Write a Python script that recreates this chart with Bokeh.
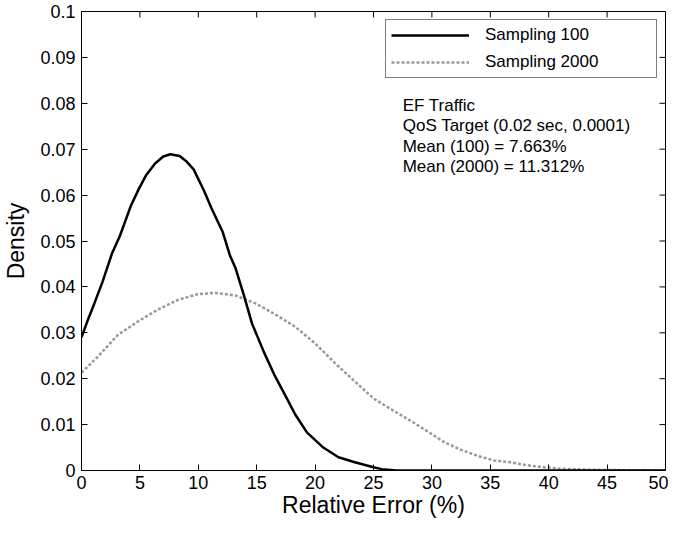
import math
from bokeh.plotting import figure
from bokeh.models import (Range1d, FixedTicker, CustomJSTickFormatter,
                          Legend, LegendItem, ColumnDataSource)
from bokeh.core.properties import value
from bokeh.embed import file_html
from bokeh.resources import INLINE

# ---- data ----
x_s100 = [0, 0.5, 1.1, 1.8, 2.6, 3.3, 4.2, 4.9, 5.5, 6.3, 7.0, 7.6, 8.4, 9.0, 9.6,
          10.5, 11.1, 12.1, 12.7, 13.2, 13.9, 14.6, 15.6, 16.5, 17.4, 18.3, 19.3,
          20.7, 22.0, 23.4, 25.0, 25.7, 27.0, 30, 35, 40, 45, 50]
y_s100 = [0.0290, 0.0325, 0.0364, 0.0411, 0.0472, 0.0512, 0.0575, 0.0613, 0.0642,
          0.0669, 0.0684, 0.0689, 0.0685, 0.0673, 0.0656, 0.0609, 0.0573, 0.0519,
          0.0469, 0.0440, 0.0382, 0.0320, 0.0259, 0.0209, 0.0166, 0.0122, 0.0083,
          0.0050, 0.0029, 0.0018, 0.0007, 0.0003, 0.0, 0.0, 0.0, 0.0, 0.0, 0.0]

x_s2000 = [0, 1.4, 3.1, 4.8, 6.5, 8.2, 9.9, 11.5, 13.2, 14.9, 16.6, 18.3, 20.0,
           21.7, 23.4, 25.0, 26.6, 28.2, 29.7, 31.1, 32.5, 33.9, 35.3, 36.7, 38.0,
           39.6, 41.0, 43.0, 45.0, 50.0]
y_s2000 = [0.0213, 0.0248, 0.0295, 0.0324, 0.0350, 0.0371, 0.0384, 0.0387, 0.0381,
           0.0364, 0.0340, 0.0313, 0.0277, 0.0234, 0.0194, 0.0157, 0.0132, 0.0108,
           0.0084, 0.0061, 0.0045, 0.0032, 0.0022, 0.0018, 0.0012, 0.0007, 0.0004,
           0.0002, 0.0001, 0.0]

series_names = ["Sampling 100", "Sampling 2000"]
x_ticks = [0, 5, 10, 15, 20, 25, 30, 35, 40, 45, 50]
y_ticks = [0, 0.01, 0.02, 0.03, 0.04, 0.05, 0.06, 0.07, 0.08, 0.09, 0.1]
note_lines = ["EF Traffic", "QoS Target (0.02 sec, 0.0001)",
              "Mean (100) = 7.663%", "Mean (2000) = 11.312%"]
x_title = "Relative Error (%)"
y_title = "Density"

FONT = "Liberation Sans"
X_MIN, X_MAX = 0, 50
Y_MIN, Y_MAX = 0, 0.1

p = figure(width=668, height=520, output_backend="svg", toolbar_location=None,
           x_range=Range1d(X_MIN, X_MAX), y_range=Range1d(Y_MIN, Y_MAX),
           min_border_left=76, min_border_top=11, min_border_right=3,
           min_border_bottom=40)
p.background_fill_color = "white"
p.border_fill_color = "white"
p.outline_line_color = "black"
p.outline_line_width = 1
p.grid.visible = False

for ax in (p.xaxis[0], p.yaxis[0]):
    ax.major_tick_in = 6
    ax.major_tick_out = 0
    ax.minor_tick_line_color = None
    ax.axis_line_color = "black"
    ax.major_tick_line_color = "black"
    ax.major_label_text_font = FONT
    ax.major_label_text_font_size = "18px"
    ax.major_label_text_color = "black"
    ax.axis_label_text_font = FONT
    ax.axis_label_text_font_size = "23px"
    ax.axis_label_text_font_style = "normal"
    ax.axis_label_text_color = "black"

p.xaxis[0].ticker = FixedTicker(ticks=x_ticks)
p.yaxis[0].ticker = FixedTicker(ticks=y_ticks)
p.yaxis[0].formatter = CustomJSTickFormatter(code="return String(Math.round(tick*100)/100);")
p.xaxis[0].axis_label = x_title
p.yaxis[0].axis_label = y_title
p.xaxis[0].major_label_standoff = 5
p.yaxis[0].major_label_standoff = 6
p.xaxis[0].axis_label_standoff = 0
p.yaxis[0].axis_label_standoff = 8

# mirrored inward tick marks on the top and right edges of the box
p.ray(x=x_ticks, y=[Y_MAX] * len(x_ticks), length=6, length_units="screen",
      angle=-math.pi / 2, line_color="black", line_width=1)
p.ray(x=[X_MAX] * len(y_ticks), y=y_ticks, length=6, length_units="screen",
      angle=math.pi, line_color="black", line_width=1)

src1 = ColumnDataSource(dict(x=x_s100, y=y_s100))
src2 = ColumnDataSource(dict(x=x_s2000, y=y_s2000))
r2 = p.line("x", "y", source=src2, line_color="#9a9a9a", line_width=2.5,
            line_dash="3 2")
r1 = p.line("x", "y", source=src1, line_color="black", line_width=2.5)

legend = Legend(items=[LegendItem(label=series_names[0], renderers=[r1]),
                       LegendItem(label=series_names[1], renderers=[r2])],
                location="top_right", orientation="vertical",
                border_line_color="black", border_line_width=1,
                background_fill_color="white", background_fill_alpha=1,
                label_text_font=FONT, label_text_font_size="17px",
                label_text_color="black", padding=5, spacing=7,
                glyph_width=78, label_standoff=16, label_width=166,
                label_height=20, glyph_height=20, margin=8)
p.add_layout(legend, "center")

# annotation block
note_top = 0.0795
note_step = 0.00443
p.text(x=[27.5] * len(note_lines),
       y=[note_top - i * note_step for i in range(len(note_lines))],
       text=note_lines, text_font=value(FONT), text_font_size="17px",
       text_color="black", text_baseline="middle", text_align="left")

open("out.html", "w").write(file_html(p, INLINE))
